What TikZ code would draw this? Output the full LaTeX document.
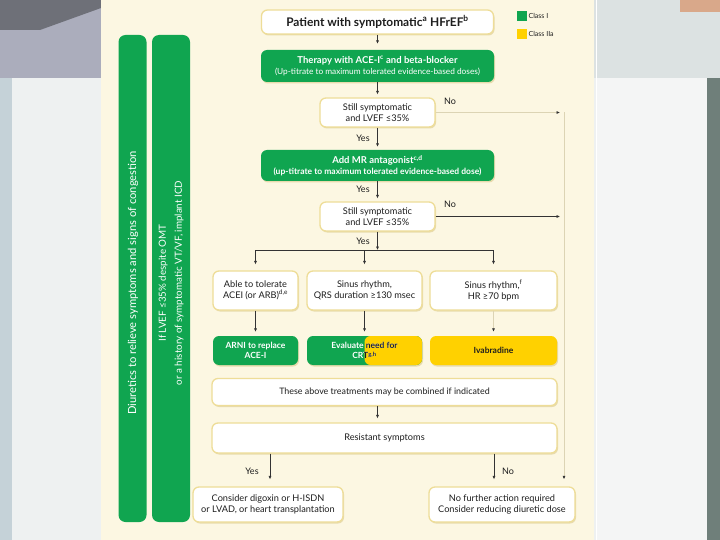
\documentclass[tikz,border=0pt]{standalone}
\usepackage{fontspec}
\setmainfont{Lato}
\usetikzlibrary{arrows.meta,shadows,calc}
\definecolor{cream}{HTML}{FCF7E2}
\definecolor{escgreen}{HTML}{10A550}
\definecolor{escyellow}{HTML}{FFD100}
\definecolor{boxline}{HTML}{EEDD98}
\definecolor{shadowc}{HTML}{E3D5A0}
\definecolor{ink}{HTML}{1E1E1E}
\definecolor{faint}{HTML}{DCD4B4}
\definecolor{bgA}{HTML}{EEF1F1}
\definecolor{bgB}{HTML}{ABADBC}
\definecolor{bgC}{HTML}{6E7078}
\definecolor{bgD}{HTML}{C5D2D8}
\definecolor{bgE}{HTML}{DCE2E2}
\definecolor{bgF}{HTML}{D9A88A}
\definecolor{bgG}{HTML}{F4F5F5}
\definecolor{bgH}{HTML}{6F7F7A}
\tikzset{
  wbox/.style={draw=boxline, line width=1.3pt, fill=white, rounded corners=6pt,
    drop shadow={shadow xshift=1pt, shadow yshift=-1.5pt, fill=shadowc, opacity=0.8},
    text=ink, font=\fontsize{9.2}{11}\selectfont, align=center, inner sep=2pt},
  gbox/.style={fill=escgreen, rounded corners=6pt,
    drop shadow={shadow xshift=1pt, shadow yshift=-1.5pt, fill=shadowc, opacity=0.8},
    text=white, font=\bfseries\fontsize{8.5}{10.5}\selectfont, align=center, inner sep=2pt},
  ybox/.style={gbox, fill=escyellow, text=ink},
  bar/.style={fill=escgreen, rounded corners=7pt, text=white, rotate=90,
    font=\fontsize{9.8}{16}\selectfont, align=center, inner sep=0pt},
  arr/.style={-{Latex[length=3.5pt,width=3pt]}, line width=0.5pt, draw=black!80},
  farr/.style={-{Latex[length=3.5pt,width=3pt,color=black!80]}, line width=0.6pt, draw=faint},
  lbl/.style={font=\fontsize{9}{10}\selectfont, text=ink},
}
\begin{document}
\begin{tikzpicture}[x=1pt,y=-1pt]
\useasboundingbox (0,0) rectangle (720,540);
% background
\fill[bgA] (0,0) rectangle (720,540);
\fill[bgB] (0,0) rectangle (101,78);
\fill[bgC] (0,0) -- (101,0) -- (101,8) -- (40,30) -- (0,30) -- cycle;
\fill[bgD] (0,78) rectangle (12,540);
\fill[bgE] (594,0) rectangle (720,78);
\fill[bgF] (680,0) rectangle (720,12);
\fill[bgG] (596,78) rectangle (707,540);
\fill[bgH] (707,78) rectangle (720,540);
\fill[cream] (101,0) rectangle (594,540);
\draw[white, line width=1pt] (596,0) -- (596,540);

% side bars
\fill[escgreen, rounded corners=7pt] (118.5,35) rectangle (146.5,522);
\node[text=white, rotate=90, font=\fontsize{11.2}{13}\selectfont, inner sep=0pt] (bar1) at (133,283)
  {Diuretics to relieve symptoms and signs of congestion};
\fill[escgreen, rounded corners=7pt] (152,35) rectangle (190,522);
\node[text=white, rotate=90, font=\fontsize{9.8}{16}\selectfont, align=center, inner sep=0pt] (bar2) at (171,283)
  {If LVEF ≤35\% despite OMT\\or a history of symptomatic VT/VF, implant ICD};

% legend
\node[fill=escgreen, minimum size=10.5, inner sep=0] (lg1) at (522,16) {};
\node[fill=escyellow, minimum size=10.5, inner sep=0] (lg2) at (522,34) {};
\node[anchor=west, font=\fontsize{7}{8}\selectfont, text=ink, inner sep=1pt] (lt1) at (lg1.east) {Class I};
\node[anchor=west, font=\fontsize{7}{8}\selectfont, text=ink, inner sep=1pt] (lt2) at (lg2.east) {Class IIa};

% main column
\node[wbox, minimum width=232, minimum height=24, font=\bfseries\fontsize{11.9}{13}\selectfont] (title) at (377.5,22)
  {Patient with symptomatic\textsuperscript{a} HFrEF\textsuperscript{b}};
\node[gbox, minimum width=233, minimum height=32] (therapy) at (377.5,66)
  {\fontsize{9.5}{11}\selectfont Therapy with ACE-I\textsuperscript{c} and beta-blocker\\\mdseries\fontsize{8.3}{10}\selectfont(Up-titrate to maximum tolerated evidence-based doses)};
\node[wbox, minimum width=115, minimum height=29] (still1) at (377.5,112.5)
  {Still symptomatic\\and LVEF ≤35\%};
\node[gbox, minimum width=233, minimum height=31] (mra) at (377.5,165.5)
  {\fontsize{9.5}{11}\selectfont Add MR antagonist\textsuperscript{c,d}\\\fontsize{8.5}{10}\selectfont(up-titrate to maximum tolerated evidence-based dose)};
\node[wbox, minimum width=115, minimum height=29] (still2) at (377.5,216.5)
  {Still symptomatic\\and LVEF ≤35\%};

\node[wbox, minimum width=85, minimum height=39] (b1) at (255.5,290.5)
  {Able to tolerate\\ACEI (or ARB)\textsuperscript{d,e}};
\node[wbox, minimum width=115, minimum height=39] (b2) at (364.5,290.5)
  {Sinus rhythm,\\QRS duration ≥130 msec};
\node[wbox, minimum width=127, minimum height=39] (b3) at (493.5,290.5)
  {Sinus rhythm,\textsuperscript{f}\\HR ≥70 bpm};

\node[gbox, minimum width=85, minimum height=29] (arni) at (255.5,350.5)
  {ARNI to replace\\ACE-I};
\node[gbox, minimum width=115, minimum height=29,
  path picture={\fill[escyellow] (path picture bounding box.north) rectangle (path picture bounding box.south east);}] (eval) at (364.5,350.5)
  {Evaluate need for\\CRT\textsuperscript{g,h}};
\begin{scope}
  \clip (eval.north) rectangle (eval.south east);
  \node[align=center, text=ink, font=\bfseries\fontsize{8.5}{10.5}\selectfont, inner sep=2pt] (evalr) at (eval.center)
    {Evaluate need for\\CRT\textsuperscript{g,h}};
\end{scope}
\node[ybox, minimum width=127, minimum height=29] (ivab) at (493.5,350.5) {Ivabradine};

\node[wbox, minimum width=345, minimum height=27, font=\fontsize{8.9}{11}\selectfont] (comb) at (384.5,392)
  {These above treatments may be combined if indicated};
\node[wbox, minimum width=345, minimum height=30] (resist) at (384.5,438)
  {Resistant symptoms};
\node[wbox, minimum width=150, minimum height=35] (dig) at (268,504.5)
  {Consider digoxin or H-ISDN\\or LVAD, or heart transplantation};
\node[wbox, minimum width=146, minimum height=35] (nofur) at (502,504.5)
  {No further action required\\Consider reducing diuretic dose};

% connectors
\draw[arr, shorten >=6pt] (title) -- (therapy);
\draw[arr, shorten >=3pt] (therapy) -- (still1);
\draw[arr, shorten >=3pt] (still1) -- (mra);
\draw[arr, shorten >=3pt] (mra) -- (still2);
\coordinate (br) at (377.5,250);
\coordinate (bl) at (255.5,250);
\coordinate (bm) at (364.5,250);
\coordinate (brr) at (493.5,250);
\draw[arr] (still2) -- (br);
\draw[line width=0.5pt, black!80] (bl) -- (brr);
\draw[arr, shorten >=6pt] (bl) -- (b1);
\draw[arr, shorten >=6pt] (bm) -- (b2);
\draw[arr, shorten >=6pt] (brr) -- (b3);
\draw[arr, shorten >=4pt] (b1) -- (arni);
\draw[arr, shorten >=4pt] (b2) -- (eval);
\draw[farr, shorten >=4pt] (b3) -- (ivab);
\coordinate (c1) at ([xshift=-7pt]comb.south);
\draw[arr, shorten >=4pt] (c1) -- (c1 |- resist.north);
\draw[arr, shorten >=7pt] ([xshift=2pt]dig.north |- resist.south) -- ([xshift=2pt]dig.north);
\draw[arr, shorten >=7pt] ([xshift=-8pt]nofur.north |- resist.south) -- ([xshift=-8pt]nofur.north);

\coordinate (r1) at (560,112.5);
\coordinate (r2) at (560,216.5);
\coordinate (rv) at (564,112.5);
\draw[farr] (still1) -- (r1);
\draw[arr] (still2) -- (r2);
\draw[farr, shorten >=7pt] (rv) -- (rv |- nofur.north);

% labels
\node[lbl] (no1) at (450,101) {No};
\node[lbl] (no2) at (450,204) {No};
\node[lbl] (yes1) at (363,138) {Yes};
\node[lbl] (yes2) at (363,189) {Yes};
\node[lbl] (yes3) at (363,241) {Yes};
\node[lbl] (yes4) at (252,471) {Yes};
\node[lbl] (no3) at (508,471) {No};
\end{tikzpicture}
\end{document}
